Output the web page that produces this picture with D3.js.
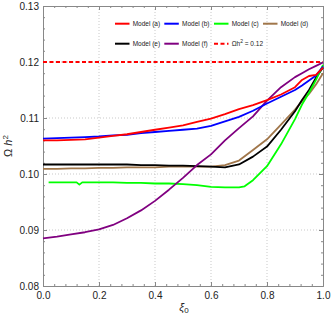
<!DOCTYPE html>
<html>
<head>
<meta charset="utf-8">
<script src="https://cdn.jsdelivr.net/npm/d3@7"></script>
<style>
  body { margin: 0; background: #fff; }
  text { font-family: "Liberation Sans", Arial, sans-serif; }
</style>
</head>
<body>
<div id="chart"></div>
<script>
// x values (xi_0) shared by most models
const xi = [0, 0.05, 0.1, 0.15, 0.2, 0.25, 0.3, 0.35, 0.4, 0.45, 0.5, 0.55, 0.6, 0.65, 0.7, 0.75, 0.8, 0.85, 0.9, 0.925, 0.95, 0.975, 1.0];
const modelA = [0.1060, 0.1060, 0.1061, 0.1062, 0.1065, 0.1068, 0.1071, 0.1075, 0.1079, 0.1083, 0.1087, 0.1093, 0.1099, 0.1107, 0.1116, 0.1123, 0.1132, 0.1142, 0.1155, 0.1168, 0.1175, 0.1177, 0.1190];
const modelB = [0.1063, 0.1064, 0.1065, 0.1066, 0.1067, 0.1069, 0.1070, 0.1073, 0.1075, 0.1077, 0.1079, 0.1081, 0.1086, 0.1094, 0.1102, 0.1113, 0.1126, 0.1138, 0.1150, 0.1158, 0.1167, 0.1176, 0.1192];
const modelD = [0.1009, 0.1009, 0.1010, 0.1010, 0.1011, 0.1011, 0.1012, 0.1012, 0.1012, 0.1013, 0.1013, 0.1013, 0.1013, 0.1016, 0.1024, 0.1043, 0.1062, 0.1088, 0.1115, 0.1130, 0.1143, 0.1160, 0.1180];
const modelE = [0.1017, 0.1017, 0.1017, 0.1017, 0.1017, 0.1017, 0.1017, 0.1016, 0.1016, 0.1015, 0.1015, 0.1014, 0.1013, 0.1012, 0.1017, 0.1031, 0.1049, 0.1079, 0.1112, 0.1132, 0.1150, 0.1172, 0.1190];
const modelF = [0.0885, 0.0888, 0.0892, 0.0896, 0.0901, 0.0909, 0.0921, 0.0935, 0.0952, 0.0972, 0.0993, 0.1016, 0.1035, 0.1060, 0.1082, 0.1103, 0.1131, 0.1155, 0.1173, 0.1180, 0.1187, 0.1193, 0.1199];
// model (c) starts a little right of zero and has a small dip
const xiC = [0.02, 0.05, 0.1, 0.12, 0.13, 0.14, 0.2, 0.25, 0.3, 0.35, 0.4, 0.45, 0.5, 0.55, 0.6, 0.65, 0.7, 0.72, 0.75, 0.8, 0.85, 0.9, 0.925, 0.95, 0.975, 1.0];
const modelC = [0.0985, 0.0985, 0.0985, 0.0985, 0.0981, 0.0985, 0.0985, 0.0985, 0.0984, 0.0984, 0.0983, 0.0983, 0.0982, 0.0980, 0.0977, 0.0976, 0.0976, 0.0978, 0.0989, 0.1014, 0.1053, 0.1098, 0.1124, 0.1145, 0.1168, 0.1195];

const refValue = 0.12;
const legendLabels = ["Model (a)", "Model (b)", "Model (c)", "Model (d)", "Model (e)", "Model (f)"];
const colors = ["#ff0000", "#0000ff", "#00ff00", "#a0764a", "#000000", "#800080"];

const xTicks = [0, 0.2, 0.4, 0.6, 0.8, 1.0];
const yTicks = [0.08, 0.09, 0.10, 0.11, 0.12, 0.13];

const margin = {top: 6, right: 9, bottom: 35, left: 43},
  width = 332, height = 321,
  w = width - margin.left - margin.right,
  h = height - margin.top - margin.bottom;

const svg = d3.select("#chart").append("svg")
  .attr("width", width).attr("height", height);
const g = svg.append("g").attr("transform", `translate(${margin.left},${margin.top})`);

const x = d3.scaleLinear().domain([0, 1]).range([0, w]);
const y = d3.scaleLinear().domain([0.08, 0.13]).range([h, 0]);

// dotted grid
g.append("g").selectAll("line").data(xTicks.slice(1, -1)).join("line")
  .attr("x1", d => x(d)).attr("x2", d => x(d)).attr("y1", 0).attr("y2", h)
  .attr("stroke", "#bbb").attr("stroke-width", 0.8).attr("stroke-dasharray", "1,2");
g.append("g").selectAll("line").data(yTicks.slice(1, -1)).join("line")
  .attr("y1", d => y(d)).attr("y2", d => y(d)).attr("x1", 0).attr("x2", w)
  .attr("stroke", "#bbb").attr("stroke-width", 0.8).attr("stroke-dasharray", "1,2");

// frame with inside ticks
const minorX = d3.range(0, 1.0001, 0.04).filter(v => Math.abs(v * 5 - Math.round(v * 5)) > 1e-6);
const minorY = d3.range(0.08, 0.13001, 0.002).filter(v => Math.abs(v * 100 - Math.round(v * 100)) > 1e-6);

function styleAxis(sel) {
  sel.selectAll(".domain").attr("stroke", "#888");
  sel.selectAll(".tick line").attr("stroke", "#888");
  sel.selectAll("text").attr("fill", "#222").style("font-size", "10px");
}

const bottom = g.append("g").attr("transform", `translate(0,${h})`)
  .call(d3.axisBottom(x).tickValues(xTicks).tickFormat(d3.format(".1f")).tickSizeInner(-4).tickSizeOuter(0).tickPadding(6));
bottom.call(styleAxis);
g.append("g").attr("transform", `translate(0,${h})`)
  .call(d3.axisBottom(x).tickValues(minorX).tickFormat("").tickSizeInner(-2).tickSizeOuter(0)).call(styleAxis);
g.append("g")
  .call(d3.axisTop(x).tickValues(xTicks).tickFormat("").tickSizeInner(-4).tickSizeOuter(0)).call(styleAxis);
g.append("g")
  .call(d3.axisTop(x).tickValues(minorX).tickFormat("").tickSizeInner(-2).tickSizeOuter(0)).call(styleAxis);

g.append("g")
  .call(d3.axisLeft(y).tickValues(yTicks).tickFormat(d3.format(".2f")).tickSizeInner(-4).tickSizeOuter(0).tickPadding(4)).call(styleAxis);
g.append("g")
  .call(d3.axisLeft(y).tickValues(minorY).tickFormat("").tickSizeInner(-2).tickSizeOuter(0)).call(styleAxis);
g.append("g").attr("transform", `translate(${w},0)`)
  .call(d3.axisRight(y).tickValues(yTicks).tickFormat("").tickSizeInner(-4).tickSizeOuter(0)).call(styleAxis);
g.append("g").attr("transform", `translate(${w},0)`)
  .call(d3.axisRight(y).tickValues(minorY).tickFormat("").tickSizeInner(-2).tickSizeOuter(0)).call(styleAxis);

// reference line
g.append("line")
  .attr("x1", x(0)).attr("x2", x(1)).attr("y1", y(refValue)).attr("y2", y(refValue))
  .attr("stroke", "#ff0000").attr("stroke-width", 2).attr("stroke-dasharray", "4,2.5");

// model curves
const series = [
  {xs: xi, ys: modelA},
  {xs: xi, ys: modelB},
  {xs: xiC, ys: modelC},
  {xs: xi, ys: modelD},
  {xs: xi, ys: modelE},
  {xs: xi, ys: modelF}
];
const line = d3.line().x(d => x(d[0])).y(d => y(d[1]));
// draw order: d, e, c, f, b, a (red on top)
[3, 4, 2, 5, 1, 0].forEach(i => {
  const s = series[i];
  g.append("path")
    .datum(s.xs.map((v, j) => [v, s.ys[j]]))
    .attr("fill", "none").attr("stroke", colors[i]).attr("stroke-width", 1.8)
    .attr("stroke-linejoin", "round")
    .attr("d", line);
});

// legend
const leg = svg.append("g").style("font-size", "6.5px");
const colX = [115, 164.3, 214, 263];
const rowY = [23.7, 43.7];
legendLabels.forEach((lab, i) => {
  const cx = colX[i % 4], cy = rowY[Math.floor(i / 4)];
  leg.append("line").attr("x1", cx).attr("x2", cx + 14.5).attr("y1", cy).attr("y2", cy)
    .attr("stroke", colors[i]).attr("stroke-width", 2);
  leg.append("text").attr("x", cx + 17.7).attr("y", cy + 2.3).attr("fill", "#222").text(lab);
});
leg.append("line").attr("x1", colX[2]).attr("x2", colX[2] + 14.5).attr("y1", rowY[1]).attr("y2", rowY[1])
  .attr("stroke", "#ff0000").attr("stroke-width", 2).attr("stroke-dasharray", "4,2.5");
const refText = leg.append("text").attr("x", colX[2] + 17.7).attr("y", rowY[1] + 2.3).attr("fill", "#222");
refText.append("tspan").text("Ωh");
refText.append("tspan").attr("dy", -3).style("font-size", "5px").text("2");
refText.append("tspan").attr("dy", 3).text(" = " + refValue.toFixed(2));

// axis titles
const yt = svg.append("text").attr("transform", "translate(12,146) rotate(-90)")
  .attr("text-anchor", "middle").attr("fill", "#222").style("font-size", "11px");
yt.append("tspan").text("Ω ");
yt.append("tspan").style("font-style", "italic").text("h");
yt.append("tspan").attr("dy", -4).style("font-size", "8px").text("2");

const xt = svg.append("text").attr("x", 184).attr("y", 311)
  .attr("text-anchor", "middle").attr("fill", "#222").style("font-size", "11px");
xt.append("tspan").style("font-style", "italic").text("ξ");
xt.append("tspan").attr("dy", 2).style("font-size", "8px").text("0");
</script>
</body>
</html>
